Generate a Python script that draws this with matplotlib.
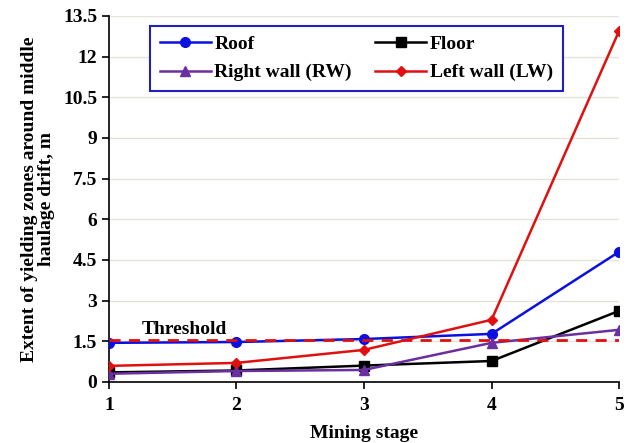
import numpy as np
from matplotlib import pyplot as plt

plt.rcParams['font.family'] = ['Liberation Serif', 'DejaVu Serif']
plt.rcParams['font.weight'] = 'bold'

stage = [1, 2, 3, 4, 5]
roof = [1.44, 1.47, 1.58, 1.77, 4.8]
floor = [0.35, 0.42, 0.6, 0.77, 2.62]
right_wall = [0.3, 0.4, 0.44, 1.44, 1.92]
left_wall = [0.59, 0.7, 1.18, 2.29, 12.95]
threshold = 1.55

fig = plt.figure(figsize=(6.26, 4.43), dpi=100)
ax = fig.add_axes([0.174, 0.138, 0.815, 0.826])

l_roof, = ax.plot(stage, roof, color='#0a10e0', marker='o', ms=7, lw=1.8, label='Roof', zorder=3)
l_floor, = ax.plot(stage, floor, color='black', marker='s', ms=7, lw=1.8, label='Floor', zorder=3)
l_rw, = ax.plot(stage, right_wall, color='#6a2fa0', marker='^', ms=7, lw=1.8, label='Right wall (RW)', zorder=3)
l_lw, = ax.plot(stage, left_wall, color='#e01010', marker='D', ms=5, lw=1.8, label='Left wall (LW)', zorder=3)
ax.plot(stage, [threshold] * len(stage), color='#e01010', ls=(0, (4, 3)), lw=2, zorder=4)

ax.text(1.26, 1.92, 'Threshold', fontsize=14, fontweight='bold', va='center')

ax.set_xlim(1, 5)
ax.set_ylim(0, 13.5)
ax.set_xticks(stage)
ax.set_yticks(np.arange(0, 13.6, 1.5))
ax.set_yticklabels(['0', '1.5', '3', '4.5', '6', '7.5', '9', '10.5', '12', '13.5'])
ax.tick_params(labelsize=14, width=1.2, length=5)
ax.tick_params(axis='x', pad=6)
ax.yaxis.grid(True, color='#e4e4dc', lw=1)
ax.set_axisbelow(True)
for s in ['top', 'right']:
    ax.spines[s].set_visible(False)
for s in ['left', 'bottom']:
    ax.spines[s].set_linewidth(1.2)

ax.set_xlabel('Mining stage', fontsize=14, fontweight='bold', labelpad=8)
ax.set_ylabel('Extent of yielding zones around middle\nhaulage drift, m', fontsize=14,
              fontweight='bold', labelpad=6, linespacing=1.0)

leg = ax.legend([l_roof, l_rw, l_floor, l_lw],
                ['Roof', 'Right wall (RW)', 'Floor', 'Left wall (LW)'],
                ncol=2, loc='upper left', bbox_to_anchor=(0.062, 1.0), fontsize=14,
                frameon=True, fancybox=False, columnspacing=1.2, handlelength=2.6,
                handletextpad=0.2, borderpad=0.5, labelspacing=0.55, framealpha=1)
leg.get_frame().set_edgecolor('#2020c0')
leg.get_frame().set_linewidth(1.5)

plt.savefig('out.png', dpi=100)
